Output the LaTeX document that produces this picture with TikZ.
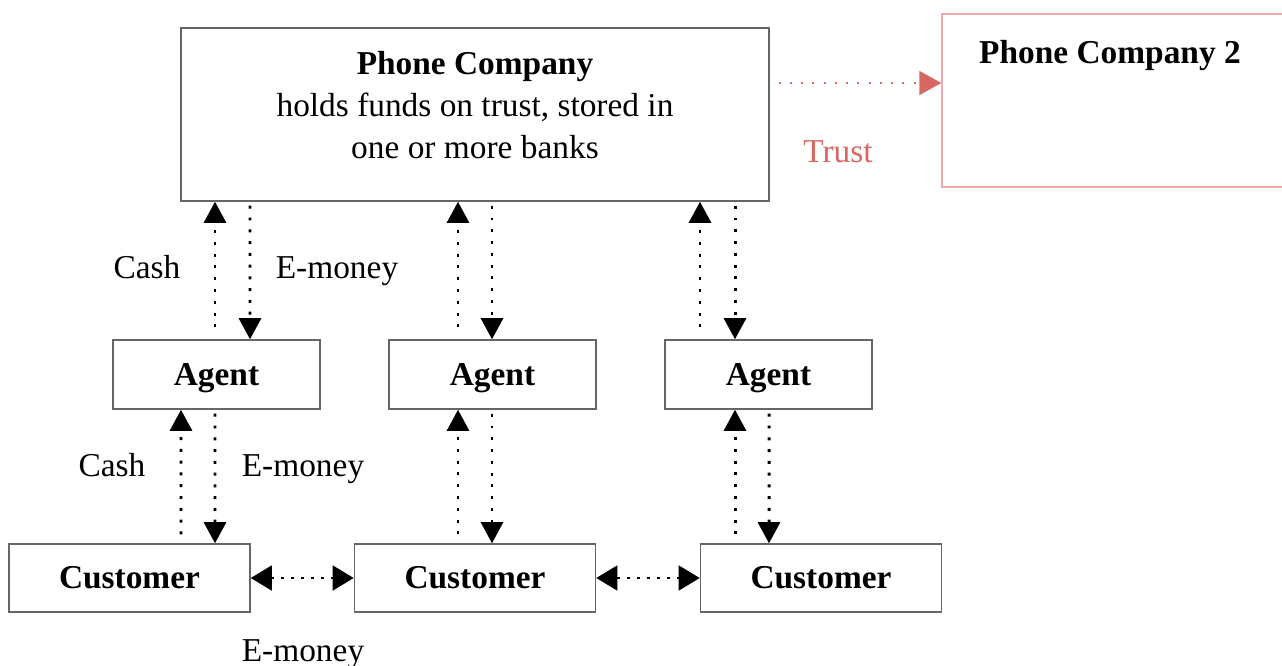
\documentclass[tikz,border=0pt]{standalone}
\usepackage{fontspec}
\setmainfont{Liberation Serif}
\usetikzlibrary{arrows.meta,calc}
\definecolor{trustred}{RGB}{214,104,100}
\definecolor{trustpink}{RGB}{238,170,168}

\begin{document}
\begin{tikzpicture}[x=0.02cm,y=-0.02cm,
    every node/.style={font=\fontsize{19}{24}\selectfont},
    box/.style={draw=black!60,line width=0.8pt,inner sep=0pt},
    flow/.style={line width=1.7pt,dash pattern=on 1.7pt off 5pt,-{Triangle[length=12pt,width=12.5pt]}},
    swap/.style={line width=1.7pt,dash pattern=on 1.7pt off 4pt,{Triangle[length=12pt,width=14pt]}-{Triangle[length=12pt,width=14pt]}}]
      \useasboundingbox (0,0) rectangle (1282,666);
      % boxes
      \node[box,minimum width=334.6pt,minimum height=98.5pt] (pc) at (475,114.5) {};
      \node[align=center] (pct) at (475,105) {\textbf{Phone Company}\\holds funds on trust, stored in\\one or more banks};
      \node[box,draw=trustpink,minimum width=203.7pt,minimum height=98.5pt] (pc2) at (1121,100.5) {};
      \node (pc2t) at (1110,56) {\textbf{Phone Company 2}};
      \node[box,text depth=0pt,minimum width=117.8pt,minimum height=39.3pt] (ag1) at (216.5,374.5) {\textbf{Agent}};
      \node[box,text depth=0pt,minimum width=117.8pt,minimum height=39.3pt] (ag2) at (492.5,374.5) {\textbf{Agent}};
      \node[box,text depth=0pt,minimum width=117.8pt,minimum height=39.3pt] (ag3) at (768.5,374.5) {\textbf{Agent}};
      \node[box,minimum width=137.2pt,minimum height=38.7pt] (cu1) at (129.5,578) {\textbf{Customer}};
      \node[box,minimum width=137.2pt,minimum height=38.7pt] (cu2) at (475,578) {\textbf{Customer}};
      \node[box,minimum width=137.2pt,minimum height=38.7pt] (cu3) at (821,578) {\textbf{Customer}};
      % labels
      \node (c1) at (147,267) {Cash};
      \node (e1) at (337,271) {E-money};
      \node (c2) at (112,465) {Cash};
      \node (e2) at (303,469) {E-money};
      \node (e3) at (303,654) {E-money};
      \node[text=trustred] (t) at (838,152) {Trust};
      % phone company and agents
      \draw[flow] ($(ag1.north)+(-1.5,-12)$) -- ($(pc.south)+(-260,0)$);
      \draw[flow] ($(pc.south)+(-225,4)$) -- ($(ag1.north)+(33.5,0)$);
      \draw[flow] ($(ag2.north)+(-34.5,-12)$) -- ($(pc.south)+(-17,0)$);
      \draw[flow] ($(pc.south)+(17,4)$) -- ($(ag2.north)+(-0.5,0)$);
      \draw[flow] ($(ag3.north)+(-68.5,-12)$) -- ($(pc.south)+(225,0)$);
      \draw[flow] ($(pc.south)+(260,4)$) -- ($(ag3.north)+(-33.5,0)$);
      % agents and customers
      \draw[flow] ($(cu1.north)+(51.5,-9)$) -- ($(ag1.south)+(-35.5,0)$);
      \draw[flow] ($(ag1.south)+(-1.5,4)$) -- ($(cu1.north)+(85.5,0)$);
      \draw[flow] ($(cu2.north)+(-17,-9)$) -- ($(ag2.south)+(-34.5,0)$);
      \draw[flow] ($(ag2.south)+(-0.5,4)$) -- ($(cu2.north)+(17,0)$);
      \draw[flow] ($(cu3.north)+(-86,-9)$) -- ($(ag3.south)+(-33.5,0)$);
      \draw[flow] ($(ag3.south)+(0.5,4)$) -- ($(cu3.north)+(-52,0)$);
      % customer to customer
      \draw[swap] (cu1) -- (cu2);
      \draw[swap] (cu2) -- (cu3);
      % trust
      \draw[flow,trustred,line width=1.2pt,dash pattern=on 1.2pt off 5.2pt,-{Triangle[length=12.5pt,width=13.5pt]}] ($(pc.east)+(9,-31.5)$) -- ($(pc2.west)+(0,-17.5)$);
    \end{tikzpicture}
\end{document}
